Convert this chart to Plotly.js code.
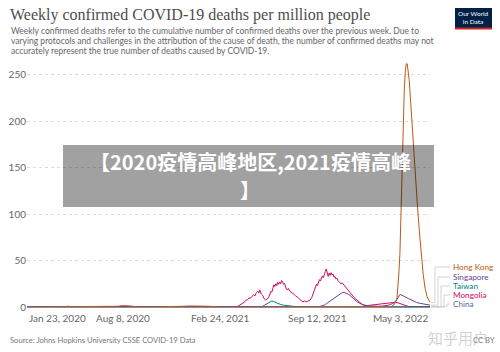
<!DOCTYPE html>
<html><head><meta charset="utf-8">
<script src="https://cdn.plot.ly/plotly-3.0.1.min.js"></script>
<style>html,body{margin:0;padding:0;background:#fff}#chart{width:500px;height:352px}</style>
</head><body><div id="chart"></div>
<script>
// ---- data ----
const seriesNames = ['Hong Kong', 'Singapore', 'Taiwan', 'Mongolia', 'China'];
const seriesColors = ['#C05917', '#6D3E91', '#00847E', '#CF0A66', '#4C6A9C'];

const hkDates = ['2020-01-23','2020-07-10','2020-07-22','2020-07-29','2020-08-05','2020-08-12','2020-08-19','2020-08-26','2020-09-02','2020-09-09','2020-09-20','2020-11-25','2020-12-05','2020-12-12','2020-12-19','2020-12-26','2021-01-02','2021-01-09','2021-01-16','2021-01-23','2021-01-30','2021-02-06','2021-02-13','2021-02-20','2021-02-27','2021-03-10','2022-02-05','2022-02-12','2022-02-17','2022-02-21','2022-02-24','2022-02-26','2022-02-28','2022-03-02','2022-03-04','2022-03-07','2022-03-09','2022-03-11','2022-03-13','2022-03-15','2022-03-17','2022-03-19','2022-03-21','2022-03-24','2022-03-27','2022-03-31','2022-04-04','2022-04-07','2022-04-11','2022-04-15','2022-04-19','2022-04-23','2022-04-27','2022-05-01','2022-05-03'];
const hkValues = [0,0,0.3,0.8,1.5,1.7,1.3,0.9,0.4,0.2,0,0,0.4,0.8,1.1,1.2,1.0,1.1,1.2,0.9,0.8,0.5,0.4,0.3,0.1,0,0,0.5,2,5,10,22,38,58,100,160,200,234,253,262,262,255,245,222,195,162,135,110,82,56,35,20,11,7,5];

const sgDates = ['2020-01-23','2020-04-20','2020-05-10','2021-08-20','2021-09-10','2021-09-17','2021-09-22','2021-09-27','2021-10-02','2021-10-08','2021-10-13','2021-10-18','2021-10-22','2021-10-26','2021-10-30','2021-11-03','2021-11-07','2021-11-11','2021-11-15','2021-11-19','2021-11-23','2021-11-27','2021-12-01','2021-12-05','2021-12-09','2021-12-13','2021-12-18','2021-12-25','2022-01-05','2022-01-15','2022-01-25','2022-02-01','2022-02-08','2022-02-14','2022-02-19','2022-02-23','2022-02-27','2022-03-02','2022-03-05','2022-03-08','2022-03-12','2022-03-16','2022-03-20','2022-03-25','2022-03-30','2022-04-05','2022-04-12','2022-04-19','2022-04-26','2022-05-03'];
const sgValues = [0,0.1,0,0,0.2,0.5,1.2,2,3.8,6,8,10,11.5,13,14.5,15.5,15.8,15,14,12.5,10.5,8.5,6.5,5,4,3,2,1.3,0.9,0.8,1,1.5,2.2,3.5,5,7.5,11,13.5,13,12,11,10,9,7.5,6,5,4,3.2,2.5,2];

const twDates = ['2020-01-23','2021-05-18','2021-05-22','2021-05-26','2021-05-30','2021-06-03','2021-06-07','2021-06-11','2021-06-15','2021-06-19','2021-06-24','2021-06-29','2021-07-05','2021-07-12','2021-07-19','2021-07-26','2021-08-05','2021-08-20','2021-09-05','2022-04-20','2022-04-27','2022-05-03'];
const twValues = [0,0,0.5,1.8,3,4.5,5.8,6.5,5.8,4.8,3.6,2.7,2,1.4,1,0.6,0.3,0.1,0,0,0.2,0.5];

const mnDates = ['2020-01-23','2021-03-25','2021-03-31','2021-04-04','2021-04-08','2021-04-12','2021-04-16','2021-04-19','2021-04-22','2021-04-25','2021-04-28','2021-05-01','2021-05-04','2021-05-07','2021-05-10','2021-05-13','2021-05-15','2021-05-17','2021-05-20','2021-05-23','2021-05-26','2021-05-29','2021-06-01','2021-06-04','2021-06-07','2021-06-09','2021-06-11','2021-06-13','2021-06-15','2021-06-17','2021-06-19','2021-06-21','2021-06-23','2021-06-25','2021-06-27','2021-06-29','2021-07-01','2021-07-03','2021-07-05','2021-07-07','2021-07-09','2021-07-11','2021-07-13','2021-07-15','2021-07-18','2021-07-21','2021-07-24','2021-07-27','2021-07-30','2021-08-02','2021-08-05','2021-08-08','2021-08-11','2021-08-14','2021-08-17','2021-08-20','2021-08-23','2021-08-26','2021-08-29','2021-09-01','2021-09-03','2021-09-05','2021-09-07','2021-09-09','2021-09-11','2021-09-13','2021-09-15','2021-09-17','2021-09-19','2021-09-21','2021-09-23','2021-09-25','2021-09-27','2021-09-29','2021-10-01','2021-10-03','2021-10-05','2021-10-07','2021-10-09','2021-10-11','2021-10-13','2021-10-15','2021-10-17','2021-10-19','2021-10-21','2021-10-23','2021-10-25','2021-10-28','2021-10-31','2021-11-03','2021-11-06','2021-11-09','2021-11-12','2021-11-15','2021-11-18','2021-11-21','2021-11-24','2021-11-27','2021-11-30','2021-12-03','2021-12-06','2021-12-09','2021-12-12','2021-12-15','2021-12-20','2021-12-25','2022-01-01','2022-01-08','2022-01-15','2022-01-22','2022-01-29','2022-02-05','2022-02-12','2022-02-19','2022-02-26','2022-03-05','2022-03-12','2022-03-19','2022-03-26','2022-04-10','2022-05-03'];
const mnValues = [0,0,0.3,1.5,2.8,4,5.5,7.5,8,10,9.5,11.5,13,12,15.5,17,15,18.5,14,12.5,9,7.5,8.5,10,14,17,16,21,24,22,25,23,26.5,24.5,27,25,28.5,27,24.5,25.5,22,19,18.5,20,17,16,14.5,13.5,12,11,9.5,8,6.5,5.5,6.5,5.5,6,7,7.5,10,12.5,16,19,21,24.5,23,27,29.5,28,31,33.5,31.5,36,38,41,37,33,36.5,34,37,34.5,35.5,32,33,30,31,28.5,27,25,26,24,22.5,20,17.5,16,14,12,10.5,9,7.5,6,4.5,3.5,2.5,1.8,1.5,2,2.5,3,3.2,3.5,3.8,4.2,5,4.5,3,1.5,0.6,0.2,0.1,0];

const cnDates = ['2020-01-23','2020-01-30','2020-02-06','2020-02-13','2020-02-20','2020-02-27','2020-03-05','2020-03-15','2020-04-10','2020-04-17','2020-04-24','2020-05-10','2022-04-20','2022-04-27','2022-05-03'];
const cnValues = [0.05,0.2,0.4,0.6,0.5,0.3,0.15,0.05,0.02,0.9,0.05,0,0,0.2,0.3];

const xTickDates = ['2020-01-23','2020-08-08','2021-02-24','2021-09-12','2022-05-03'];
const xTickLabels = ['Jan 23, 2020','Aug 8, 2020','Feb 24, 2021','Sep 12, 2021','May 3, 2022'];
const yTickVals = [0, 50, 100, 150, 200, 250];
const yTickLabels = ['0', '50', '100', '150', '200', '250'];

const titleText = 'Weekly confirmed COVID-19 deaths per million people';
const subtitleLines = [
  'Weekly confirmed deaths refer to the cumulative number of confirmed deaths over the previous week. Due to',
  'varying protocols and challenges in the attribution of the cause of death, the number of confirmed deaths may not',
  'accurately represent the true number of deaths caused by COVID-19.'
];
const sourceText = 'Source: Johns Hopkins University CSSE COVID-19 Data';
const overlayLines = ['【2020疫情高峰地区,2021疫情高峰', '】'];

// ---- layout geometry ----
const W = 500, H = 352;
const L = 27, R = 430, T = 55, B = 307;
const yMax = 271.5;
const px = x => (x - L) / (R - L);
const py = y => (B - y) / (B - T);
const vy = v => v / yMax;

const allDates = [hkDates, sgDates, twDates, mnDates, cnDates];
const allValues = [hkValues, sgValues, twValues, mnValues, cnValues];

const traces = seriesNames.map((n, i) => ({
  x: allDates[i], y: allValues[i], type: 'scatter', mode: 'lines', name: n,
  line: {color: seriesColors[i], width: 1}, hoverinfo: 'skip'
}));
traces.reverse();

const shapes = [];
const annotations = [];

xTickDates.forEach((d, i) => {
  annotations.push({
    x: d, xref: 'x', y: py(317.5), yref: 'paper', text: xTickLabels[i], showarrow: false,
    xanchor: i === 0 ? 'left' : (i === xTickDates.length - 1 ? 'right' : 'center'), yanchor: 'middle',
    font: {family: 'Lato', size: 10, color: '#666'}
  });
});

const labelY = [267, 277, 286, 295, 304];
const connX = [435, 438, 441, 444, 447];
seriesNames.forEach((n, i) => {
  const vals = allValues[i];
  const endV = vals[vals.length - 1];
  const yEnd = vy(endV);
  const yLab = py(labelY[i]);
  const lc = {color: '#c8c8c8', width: 0.8};
  shapes.push({type: 'line', xref: 'paper', yref: 'paper', x0: px(431), x1: px(connX[i]), y0: yEnd, y1: yEnd, line: lc});
  shapes.push({type: 'line', xref: 'paper', yref: 'paper', x0: px(connX[i]), x1: px(connX[i]), y0: yEnd, y1: yLab, line: lc});
  shapes.push({type: 'line', xref: 'paper', yref: 'paper', x0: px(connX[i]), x1: px(450), y0: yLab, y1: yLab, line: lc});
  annotations.push({
    x: px(451), xref: 'paper', y: yLab, yref: 'paper', text: n, showarrow: false,
    xanchor: 'left', yanchor: 'middle', font: {family: 'Lato', size: 8.2, color: seriesColors[i]}
  });
});

annotations.push({x: px(8), xref: 'paper', y: py(15), yref: 'paper', text: titleText, showarrow: false,
  xanchor: 'left', yanchor: 'middle', font: {family: 'Liberation Serif', size: 16, color: '#4d4d4d'}});
const subY = [31, 41.3, 51.3];
subtitleLines.forEach((t, i) => {
  annotations.push({x: px(8.5), xref: 'paper', y: py(subY[i]), yref: 'paper', text: t, showarrow: false,
    xanchor: 'left', yanchor: 'middle', font: {family: 'Lato', size: 8.5, color: '#666'}});
});

shapes.push({type: 'rect', xref: 'paper', yref: 'paper', x0: px(455), x1: px(492), y0: py(28), y1: py(8), fillcolor: '#002147', line: {width: 0}});
shapes.push({type: 'rect', xref: 'paper', yref: 'paper', x0: px(455), x1: px(492), y0: py(29.5), y1: py(27.5), fillcolor: '#ce261e', line: {width: 0}});
annotations.push({x: px(473.5), xref: 'paper', y: py(17.5), yref: 'paper', text: 'Our World<br>in Data', showarrow: false,
  xanchor: 'center', yanchor: 'middle', font: {family: 'Lato', size: 6.5, color: '#ffffff'}});

annotations.push({x: px(8), xref: 'paper', y: py(339.5), yref: 'paper', text: sourceText, showarrow: false,
  xanchor: 'left', yanchor: 'middle', font: {family: 'Lato', size: 7.6, color: '#777'}});
annotations.push({x: px(497), xref: 'paper', y: py(339.5), yref: 'paper', text: 'CC BY', showarrow: false,
  xanchor: 'right', yanchor: 'middle', font: {family: 'Lato', size: 7.6, color: '#777'}});
annotations.push({x: px(458), xref: 'paper', y: py(337), yref: 'paper', text: '知乎用户', showarrow: false,
  xanchor: 'center', yanchor: 'middle', font: {family: 'Noto Sans CJK SC', size: 15, color: 'rgba(170,170,170,0.55)'}});

shapes.push({type: 'rect', xref: 'paper', yref: 'paper', layer: 'above', x0: px(63), x1: px(434), y0: py(207), y1: py(145),
  fillcolor: 'rgba(0,0,0,0.37)', line: {width: 0}});
const overlayY = [161, 189.5];
overlayLines.forEach((t, i) => {
  annotations.push({x: px(250), xref: 'paper', y: py(overlayY[i]), yref: 'paper', text: t, showarrow: false,
    xanchor: 'center', yanchor: 'middle',
    font: {family: 'Noto Sans CJK SC', size: 20, color: '#ffffff', weight: 'bold'}});
});

const layout = {
  width: W, height: H,
  margin: {l: L, r: W - R, t: T, b: H - B, pad: 0},
  paper_bgcolor: '#fff', plot_bgcolor: '#fff',
  showlegend: false,
  xaxis: {type: 'date', range: ['2020-01-23', '2022-05-03'], showgrid: false, zeroline: false,
    showticklabels: false, ticks: '', showline: true, linecolor: '#8a8f9c', linewidth: 1},
  yaxis: {range: [0, yMax], tickvals: yTickVals, ticktext: yTickLabels, showgrid: true,
    gridcolor: '#dcdcdc', griddash: 'dot', gridwidth: 1, zeroline: false, showline: false, ticks: '',
    tickfont: {family: 'Lato', size: 10, color: '#666'}},
  shapes: shapes,
  annotations: annotations,
  hovermode: false
};

Plotly.newPlot('chart', traces, layout, {staticPlot: true, displayModeBar: false});
</script>
</body></html>
